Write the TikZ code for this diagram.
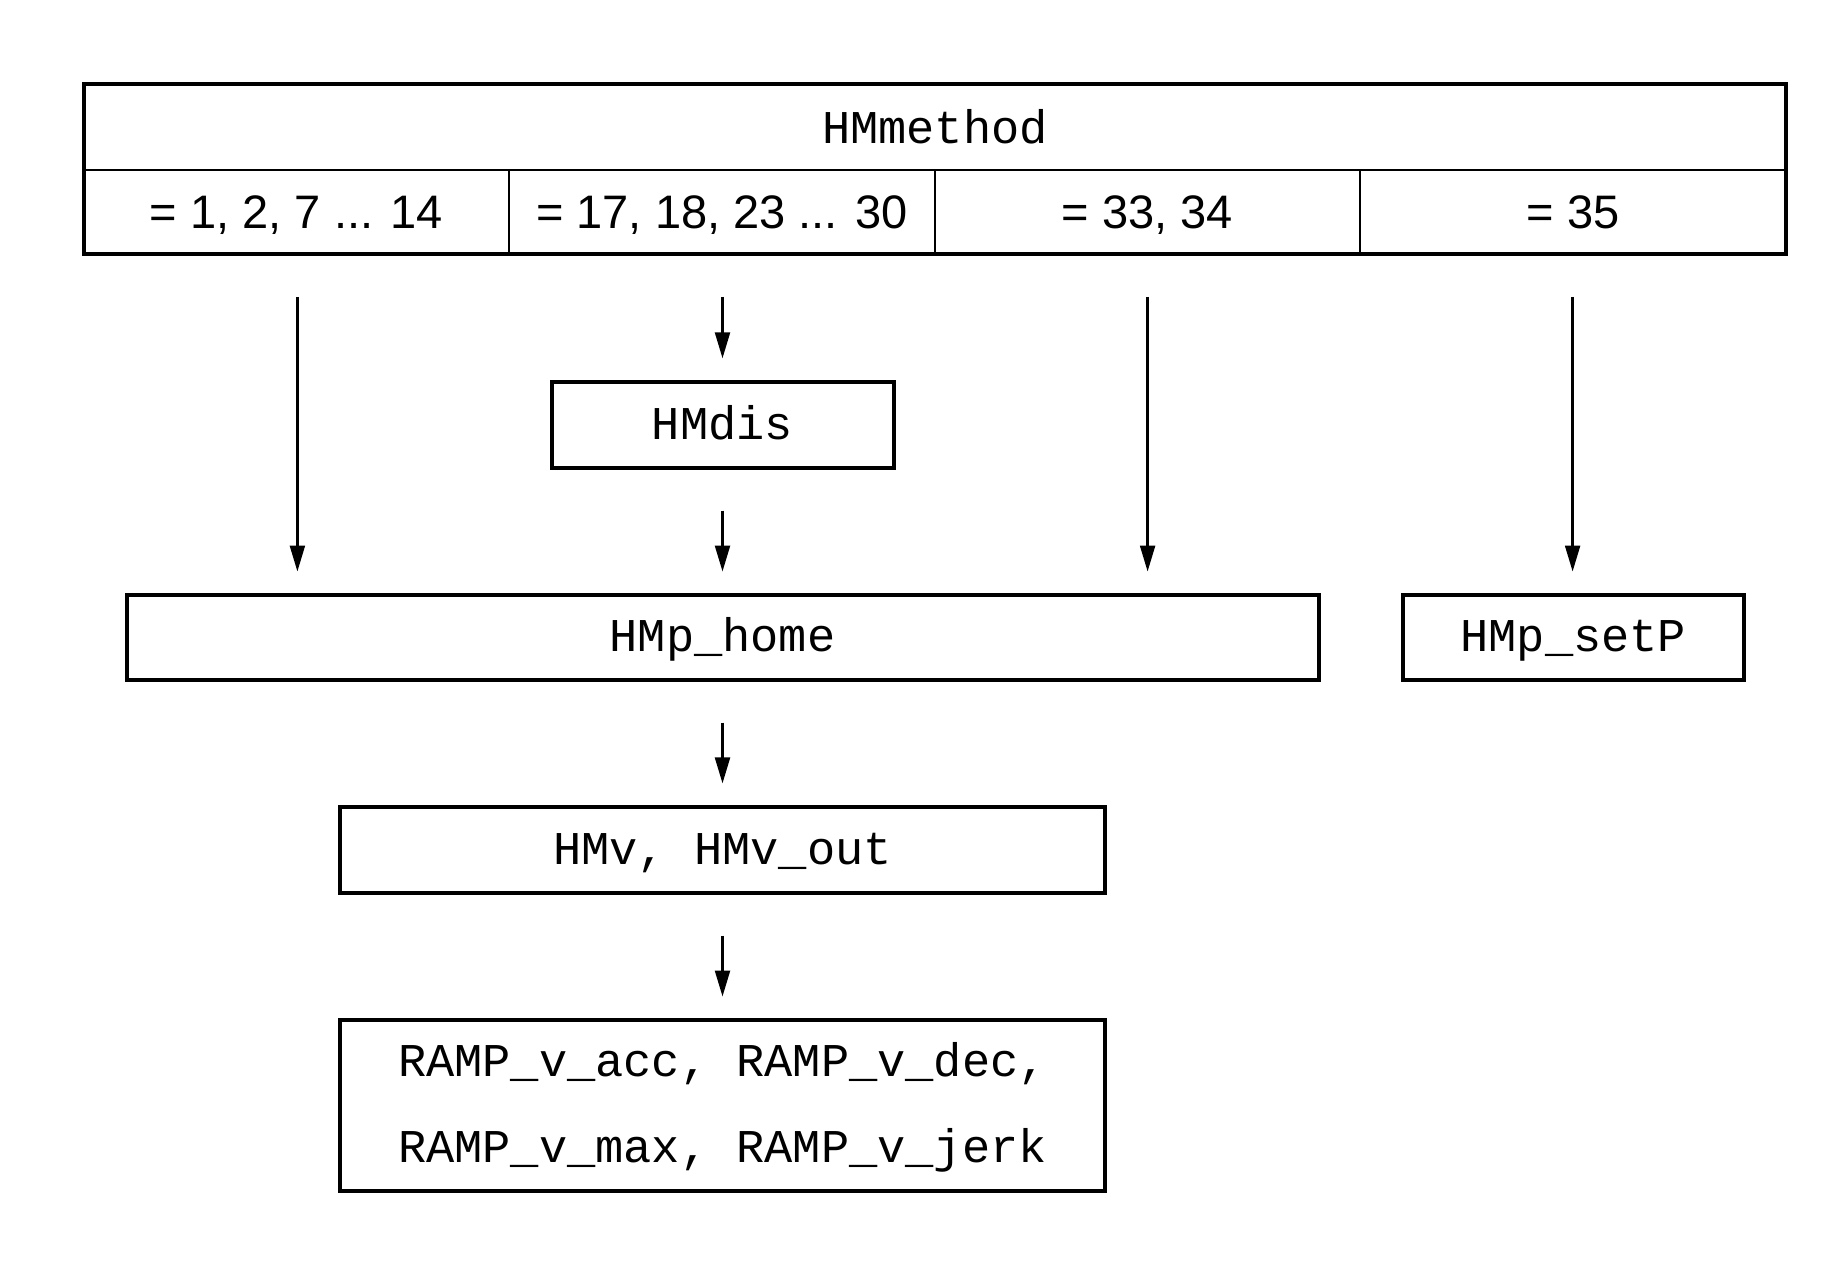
\documentclass[tikz,border=0pt]{standalone}
\usepackage{fontspec}
\setmainfont{Liberation Sans}
\newfontfamily\monofont{Liberation Mono}
\usetikzlibrary{arrows.meta}
\begin{document}
\begin{tikzpicture}[x=0.5pt,y=-0.5pt,
  cell/.style={inner sep=0pt, font=\fontsize{23.5}{28}\selectfont, text height=16.9pt, text depth=0pt},
  mono/.style={inner sep=0pt, font=\monofont\fontsize{23.5}{43}\selectfont, align=center, text height=14.1pt, text depth=0pt},
  box/.style={mono, draw, line width=2pt},
  flow/.style={line width=1.15pt, -{Triangle[length=13pt,width=7.5pt]}}
]
\useasboundingbox (0,0) rectangle (1836,1278);
% table
\draw[line width=0.8pt] (84,170) -- (1786,170);
\draw[line width=0.8pt] (509,170) -- (509,254);
\draw[line width=0.8pt] (935,170) -- (935,254);
\draw[line width=0.8pt] (1360,170) -- (1360,254);
\draw[line width=2.4pt] (84,84) rectangle (1786,254);
\node[mono] (hm) at (935,129.5) {HMmethod};
\node[cell] (c1) at (296.5,212) {= 1, 2, 7 ... 14};
\node[cell] (c2) at (722,212) {= 17, 18, 23 ... 30};
\node[cell] (c3) at (1147.5,212) {= 33, 34};
\node[cell] (c4) at (1573,212) {= 35};
% boxes
\node[box, minimum width=171pt, minimum height=43.3pt] (dis) at (722.5,425) {HMdis};
\node[box, minimum width=596pt, minimum height=42.75pt] (home) at (722.5,637.6) {HMp\_home};
\node[box, minimum width=170.4pt, minimum height=42.75pt] (setp) at (1573.2,637.6) {HMp\_setP};
\node[box, minimum width=382.9pt, minimum height=43.3pt] (hmv) at (722.5,850) {HMv, HMv\_out};
\node[box, minimum width=382.9pt, minimum height=85.4pt, text height=57.1pt] (ramp) at (722.5,1105.5) {RAMP\_v\_acc, RAMP\_v\_dec,\\RAMP\_v\_max, RAMP\_v\_jerk};
% arrow ends
\coordinate (s1) at (297.4,297);
\coordinate (e1) at (297.4,571.5);
\coordinate (s2) at (722.5,297);
\coordinate (e2) at (722.5,358.3);
\coordinate (s2b) at (722.5,510.6);
\coordinate (e2b) at (722.5,571.5);
\coordinate (s3) at (1147.6,297);
\coordinate (e3) at (1147.6,571.5);
\coordinate (s4) at (1572.6,297);
\coordinate (e4) at (1572.6,571.5);
\coordinate (s5) at (722.5,722.5);
\coordinate (e5) at (722.5,783.4);
\coordinate (s6) at (722.5,935.6);
\coordinate (e6) at (722.5,996.5);
\draw[flow] (s1) -- (e1);
\draw[flow] (s2) -- (e2);
\draw[flow] (s2b) -- (e2b);
\draw[flow] (s3) -- (e3);
\draw[flow] (s4) -- (e4);
\draw[flow] (s5) -- (e5);
\draw[flow] (s6) -- (e6);
\end{tikzpicture}
\end{document}
